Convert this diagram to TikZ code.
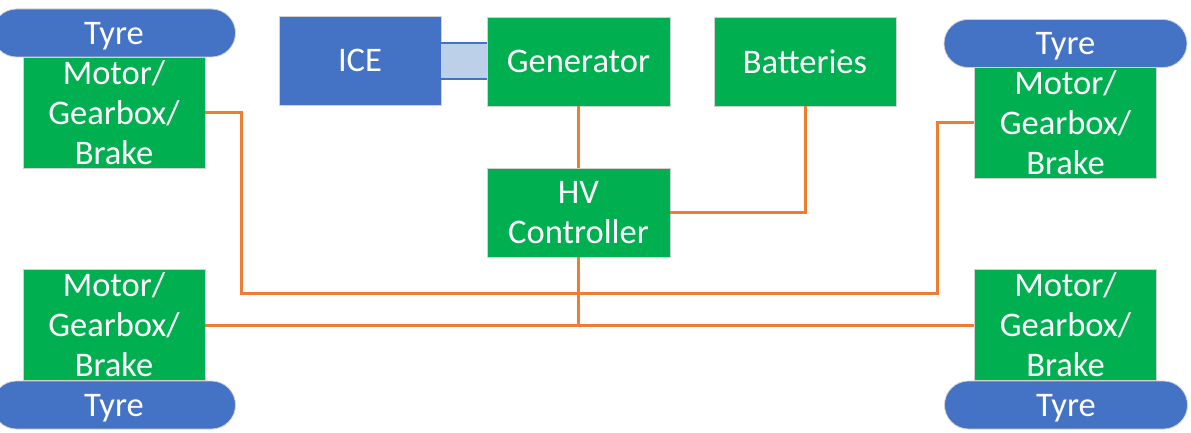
\documentclass[tikz,border=0pt]{standalone}
\usepackage{fontspec}
\setmainfont{Carlito}
\usetikzlibrary{calc}
\definecolor{boxgreen}{HTML}{00B050}
\definecolor{boxblue}{HTML}{4472C4}
\definecolor{wire}{HTML}{ED7D31}
\definecolor{shaftfill}{HTML}{BDD0EA}
\newcommand{\tyretext}{\raisebox{-3pt}[\height][\depth]{Tyre}}
\tikzset{
  unit/.style={rectangle, inner sep=0pt, align=center, text=white,
    draw=black!18, line width=0.8pt,
    font=\fontsize{34.5}{40}\selectfont},
  greenbox/.style={unit, fill=boxgreen},
  bluebox/.style={unit, fill=boxblue},
  tyrebox/.style={unit, fill=boxblue, rounded corners=24pt,
    minimum width=243pt, minimum height=48pt},
  motorbox/.style={greenbox, minimum width=182pt, minimum height=111pt},
  wireline/.style={draw=wire, line width=3pt},
  shaftline/.style={draw=boxblue, line width=2pt}
}
\begin{document}
\begin{tikzpicture}[x=1pt,y=-1pt]
\clip (0,0) rectangle (1191,433);
\fill[white] (0,0) rectangle (1191,433);
% connectors
\coordinate (j1) at (241,293.5);
\coordinate (j2) at (937,293.5);
% motors
\node[motorbox] (mTL) at (114,112.5) {Motor/\\Gearbox/\\Brake};
\node[motorbox] (mTR) at (1065.5,123) {Motor/\\Gearbox/\\Brake};
\node[motorbox] (mBL) at (114,325) {Motor/\\Gearbox/\\Brake};
\node[motorbox] (mBR) at (1065.5,325) {Motor/\\Gearbox/\\Brake};
% tyres
\node[tyrebox] (tTL) at (114,33) {\tyretext};
\node[tyrebox] (tTR) at (1065.5,43.5) {\tyretext};
\node[tyrebox] (tBL) at (114,405) {\tyretext};
\node[tyrebox] (tBR) at (1066,405) {\tyretext};
% central units
\node[bluebox, minimum width=162pt, minimum height=89pt] (ice) at (360,60.5) {ICE};
\node[greenbox, minimum width=183pt, minimum height=89pt] (gen) at (578.5,61.5) {Generator};
\node[greenbox, minimum width=182pt, minimum height=89pt] (bat) at (805,61.5) {Batteries};
\node[greenbox, minimum width=183pt, minimum height=89pt] (hv) at (578.5,212.5) {HV\\Controller};
% shaft ICE - Generator
\fill[shaftfill] ($(ice.east)+(0,-17.5)$) rectangle ($(gen.west)+(0,18.5)$);
\draw[shaftline] ($(ice.east)+(0,-17.5)$) -- ($(gen.west)+(0,-18.5)$);
\draw[shaftline] ($(ice.east)+(0,18.5)$) -- ($(gen.west)+(0,17.5)$);
% wires
\draw[wireline] (gen.south) -- (hv.north);
\draw[wireline] (bat.south) |- (hv.east);
\draw[wireline] (mTL.east) -| (j1) -- (j2) |- (mTR.west);
\draw[wireline] (mBL.east) -- (mBR.west);
\draw[wireline] (hv.south) -- (hv.south |- mBL.east);
\end{tikzpicture}
\end{document}
